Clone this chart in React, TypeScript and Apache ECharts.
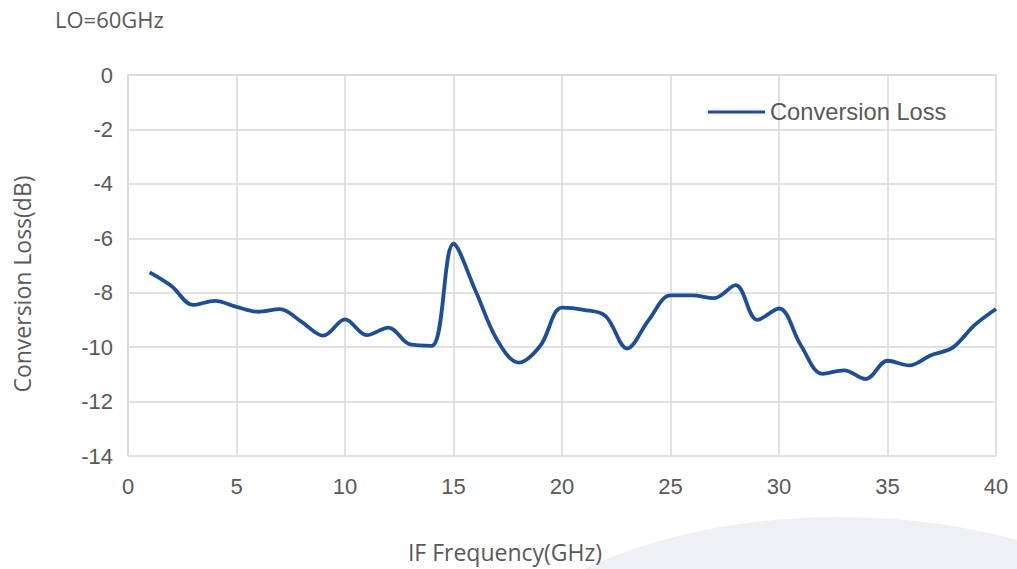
import React, { useEffect, useRef } from "react";
import * as echarts from "echarts";

const freqs = [1,2,3,4,5,6,7,8,9,10,11,12,13,14,15,16,17,18,19,20,21,22,23,24,25,26,27,28,29,30,31,32,33,34,35,36,37,38,39,40];
const conversionLoss = [-7.25,-7.75,-8.45,-8.3,-8.52,-8.7,-8.6,-9.07,-9.58,-8.98,-9.56,-9.28,-9.9,-9.95,-6.2,-7.9,-9.72,-10.57,-9.95,-8.55,-8.63,-8.85,-10.05,-9.0,-8.1,-8.1,-8.2,-7.72,-9.0,-8.58,-9.92,-10.98,-10.85,-11.17,-10.5,-10.67,-10.3,-10.02,-9.2,-8.6];

export default function App() {
  const ref = useRef<HTMLDivElement>(null);
  useEffect(() => {
    if (!ref.current) return;
    const chart = echarts.init(ref.current, undefined, { renderer: "svg" });
    const grey = "#595959";
    chart.setOption({
      animation: false,
      backgroundColor: "#ffffff",
      graphic: [
        { type: "ellipse", shape: { cx: 840, cy: 717, rx: 380, ry: 200 }, style: { fill: "#eff0f3" }, z: -10, silent: true },
        { type: "text", x: 55, y: 19, style: { text: "LO=60GHz", fontSize: 22, fill: grey, fontFamily: "Open Sans", verticalAlign: "middle" } },
        { type: "text", x: 505, y: 552, style: { text: "IF Frequency(GHz)", fontSize: 23, fill: grey, fontFamily: "Open Sans", align: "center", verticalAlign: "middle" } },
        { type: "text", x: 22, y: 284, rotation: Math.PI / 2, style: { text: "Conversion Loss(dB)", fontSize: 23, fill: grey, fontFamily: "Open Sans", align: "center", verticalAlign: "middle" } },
      ],
      legend: {
        left: 703, top: 95,
        icon: "rect", itemWidth: 57, itemHeight: 3, itemGap: 10,
        textStyle: { fontSize: 23.7, color: grey, fontFamily: "Liberation Sans" },
        data: ["Conversion Loss"],
      },
      grid: { left: 128, right: 21, top: 75, bottom: 113, containLabel: false },
      xAxis: {
        type: "value", min: 0, max: 40, interval: 5,
        axisLine: { show: true, lineStyle: { color: "#d9d9d9", width: 1.5 } },
        axisTick: { show: false },
        axisLabel: { color: grey, fontSize: 22, fontFamily: "Liberation Sans", margin: 19 },
        splitLine: { show: true, lineStyle: { color: "#d9d9d9", width: 1.5 } },
      },
      yAxis: {
        type: "value", min: -14, max: 0, interval: 2,
        axisLine: { show: true, lineStyle: { color: "#d9d9d9", width: 1.5 } },
        axisTick: { show: false },
        axisLabel: { color: grey, fontSize: 22, fontFamily: "Liberation Sans", margin: 15 },
        splitLine: { show: true, lineStyle: { color: "#d9d9d9", width: 1.5 } },
      },
      series: [{
        name: "Conversion Loss",
        type: "line",
        data: freqs.map((f, i) => [f, conversionLoss[i]]),
        smooth: 0.35,
        showSymbol: false,
        symbol: "none",
        lineStyle: { color: "#1f4e96", width: 3.8 },
        itemStyle: { color: "#1f4e96" },
      }],
    });
    return () => chart.dispose();
  }, []);
  return <div ref={ref} style={{ width: 1017, height: 569, position: "absolute", left: 0, top: 0 }} />;
}
